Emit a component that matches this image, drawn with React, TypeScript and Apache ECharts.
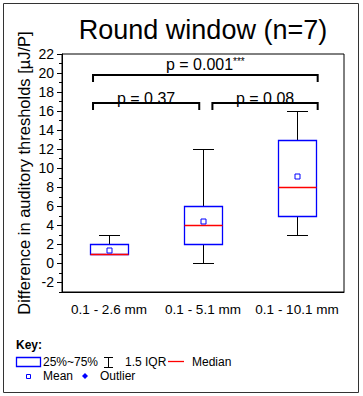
import React, { useEffect, useRef } from "react";
import * as echarts from "echarts";

const categories = ["0.1 - 2.6 mm", "0.1 - 5.1 mm", "0.1 - 10.1 mm"];
const whiskerLow = [1, 0, 3];
const q1 = [1, 2, 5];
const median = [1, 4, 8];
const q3 = [2, 6, 13];
const whiskerHigh = [3, 12, 16];
const mean = [1.43, 4.43, 9.14];

const yMajorTicks = [-2, 0, 2, 4, 6, 8, 10, 12, 14, 16, 18, 20, 22];
const yMinorTicks = [-3, -1, 1, 3, 5, 7, 9, 11, 13, 15, 17, 19, 21];

const bracketLabels = ["p = 0.37", "p = 0.08", "p = 0.001"];
const bracketStars = ["", "", "***"];
const bracketFrom = [-0.17, 1.1, -0.17];
const bracketTo = [0.96, 2.22, 2.22];
const bracketLevel = [16.85, 16.85, 19.8];

const FONT = "'Liberation Sans', Arial, sans-serif";

export default function App() {
  const ref = useRef<HTMLDivElement>(null);
  useEffect(() => {
    if (!ref.current) return;
    const chart = echarts.init(ref.current, null, { renderer: "svg" });
    const boxData = categories.map((_, i) => [
      i,
      whiskerLow[i],
      q1[i],
      median[i],
      q3[i],
      whiskerHigh[i],
      mean[i],
    ]);
    const bracketData = bracketLabels.map((_, i) => [
      0,
      bracketFrom[i],
      bracketTo[i],
      bracketLevel[i],
      i,
    ]);
    const option: any = {
      animation: false,
      backgroundColor: "#fff",
      textStyle: { fontFamily: FONT },
      grid: {
        left: 62,
        top: 54,
        right: 19,
        bottom: 104,
        show: true,
        borderColor: "#000",
        borderWidth: 1,
      },
      xAxis: {
        type: "category",
        data: categories,
        axisLine: { onZero: false, lineStyle: { color: "#000", width: 1 } },
        axisTick: { alignWithLabel: true, length: 5, lineStyle: { color: "#000" } },
        axisLabel: { interval: 0, color: "#000", fontSize: 13.5, margin: 10, fontFamily: FONT },
      },
      yAxis: [
        {
          type: "value",
          min: -3,
          max: 22,
          interval: 1,
          splitLine: { show: false },
          axisLine: { show: true, lineStyle: { color: "#000", width: 1 } },
          axisTick: { show: true, length: 5, customValues: yMajorTicks, lineStyle: { color: "#000" } },
          axisLabel: { color: "#000", fontSize: 14, margin: 8, customValues: yMajorTicks, fontFamily: FONT },
          name: "Difference in auditory thresholds [µJ/P]",
          nameLocation: "middle",
          nameRotate: 90,
          nameGap: 30,
          nameMoveOverlap: false,
          nameTextStyle: { fontSize: 16.5, color: "#000", fontFamily: FONT },
        },
        {
          type: "value",
          position: "left",
          min: -3,
          max: 22,
          interval: 1,
          splitLine: { show: false },
          axisLine: { show: false },
          axisTick: { show: true, length: 3, customValues: yMinorTicks, lineStyle: { color: "#000" } },
          axisLabel: { show: false },
        },
      ],
      series: [
        {
          type: "custom",
          clip: false,
          data: boxData,
          encode: { x: 0, y: [1, 2, 3, 4, 5, 6] },
          renderItem: (params: any, api: any) => {
            const c = api.value(0);
            const x = Math.round(api.coord([c, 0])[0]) + 0.5;
            const band = api.size([1, 0])[0];
            const yy = (v: number) => Math.round(api.coord([c, v])[1]) + 0.5;
            const yLow = yy(api.value(1));
            const yQ1 = yy(api.value(2));
            const yMed = yy(api.value(3));
            const yQ3 = yy(api.value(4));
            const yHigh = yy(api.value(5));
            const yMean = yy(api.value(6));
            const bw = Math.round(band * 0.4);
            const cap = Math.round(band * 0.22);
            const black = { stroke: "#000", lineWidth: 1 };
            const children: any[] = [];
            if (yHigh < yQ3) {
              children.push({ type: "line", shape: { x1: x, y1: yQ3, x2: x, y2: yHigh }, style: black });
              children.push({ type: "line", shape: { x1: x - cap / 2, y1: yHigh, x2: x + cap / 2, y2: yHigh }, style: black });
            }
            if (yLow > yQ1) {
              children.push({ type: "line", shape: { x1: x, y1: yQ1, x2: x, y2: yLow }, style: black });
              children.push({ type: "line", shape: { x1: x - cap / 2, y1: yLow, x2: x + cap / 2, y2: yLow }, style: black });
            }
            children.push({
              type: "rect",
              shape: { x: x - bw / 2, y: yQ3, width: bw, height: yQ1 - yQ3 },
              style: { fill: "#fff", stroke: "#0000ff", lineWidth: 1.3 },
            });
            children.push({
              type: "line",
              shape: { x1: x - bw / 2, y1: yMed, x2: x + bw / 2, y2: yMed },
              style: { stroke: "#ff0000", lineWidth: 1.3 },
            });
            children.push({
              type: "rect",
              shape: { x: x - 2.5, y: yMean - 2.5, width: 5, height: 5 },
              style: { fill: "#fff", stroke: "#0000ff", lineWidth: 1 },
            });
            return { type: "group", children };
          },
        },
        {
          type: "custom",
          clip: false,
          data: bracketData,
          encode: { x: 0, y: 3 },
          renderItem: (params: any, api: any) => {
            const base = api.coord([0, api.value(3)]);
            const band = api.size([1, 0])[0];
            const idx = api.value(4);
            const x1 = base[0] + api.value(1) * band;
            const x2 = base[0] + api.value(2) * band;
            const y = base[1];
            const drop = 7;
            const stars = bracketStars[idx];
            const gap = stars ? 10 : 5;
            return {
              type: "group",
              children: [
                {
                  type: "polyline",
                  shape: { points: [[x1, y + drop], [x1, y], [x2, y], [x2, y + drop]] },
                  style: { stroke: "#000", lineWidth: 2, fill: "none" },
                },
                {
                  type: "text",
                  x: (x1 + x2) / 2,
                  y: y - gap,
                  style: {
                    text: stars ? `{a|${bracketLabels[idx]}}{s|${stars}}` : `{a|${bracketLabels[idx]}}`,
                    align: "center",
                    verticalAlign: "middle",
                    rich: {
                      a: { fontSize: 16, fontFamily: FONT, fill: "#000" },
                      s: { fontSize: 10, fontFamily: FONT, fill: "#000", verticalAlign: "top", padding: [0, 0, 6, 0] },
                    },
                  },
                },
              ],
            };
          },
        },
      ],
      graphic: [
        {
          type: "rect",
          shape: { x: 3.5, y: 3.5, width: 355, height: 389 },
          style: { fill: "none", stroke: "#333", lineWidth: 1 },
          z: 100,
        },
        {
          type: "text",
          x: 203,
          y: 30,
          style: {
            text: "Round window (n=7)",
            fontSize: 27,
            fontFamily: FONT,
            fill: "#000",
            align: "center",
            verticalAlign: "middle",
          },
        },
        {
          type: "text",
          x: 16,
          y: 345,
          style: { text: "Key:", fontSize: 12, fontWeight: "bold", fontFamily: FONT, fill: "#000", verticalAlign: "middle" },
        },
        {
          type: "rect",
          shape: { x: 16.5, y: 357.5, width: 24, height: 9 },
          style: { fill: "#fff", stroke: "#0000ff", lineWidth: 1.3 },
        },
        {
          type: "text",
          x: 43,
          y: 362,
          style: { text: "25%~75%", fontSize: 12, fontFamily: FONT, fill: "#000", verticalAlign: "middle" },
        },
        {
          type: "line",
          shape: { x1: 108.5, y1: 357.5, x2: 108.5, y2: 367.5 },
          style: { stroke: "#000", lineWidth: 1 },
        },
        {
          type: "line",
          shape: { x1: 104, y1: 357.5, x2: 113, y2: 357.5 },
          style: { stroke: "#000", lineWidth: 1 },
        },
        {
          type: "line",
          shape: { x1: 104, y1: 367.5, x2: 113, y2: 367.5 },
          style: { stroke: "#000", lineWidth: 1 },
        },
        {
          type: "text",
          x: 125,
          y: 362,
          style: { text: "1.5 IQR", fontSize: 12, fontFamily: FONT, fill: "#000", verticalAlign: "middle" },
        },
        {
          type: "line",
          shape: { x1: 168, y1: 361.5, x2: 184, y2: 361.5 },
          style: { stroke: "#ff0000", lineWidth: 1.3 },
        },
        {
          type: "text",
          x: 192,
          y: 362,
          style: { text: "Median", fontSize: 12, fontFamily: FONT, fill: "#000", verticalAlign: "middle" },
        },
        {
          type: "rect",
          shape: { x: 26.5, y: 374.5, width: 4, height: 4 },
          style: { fill: "#fff", stroke: "#0000ff", lineWidth: 1 },
        },
        {
          type: "text",
          x: 43,
          y: 376,
          style: { text: "Mean", fontSize: 12, fontFamily: FONT, fill: "#000", verticalAlign: "middle" },
        },
        {
          type: "polygon",
          shape: { points: [[85, 373], [88, 376], [85, 379], [82, 376]] },
          style: { fill: "#0000ff" },
        },
        {
          type: "text",
          x: 100,
          y: 376,
          style: { text: "Outlier", fontSize: 12, fontFamily: FONT, fill: "#000", verticalAlign: "middle" },
        },
      ],
    };
    chart.setOption(option);
    return () => chart.dispose();
  }, []);
  return (
    <div
      ref={ref}
      style={{ position: "fixed", left: 0, top: 0, width: 363, height: 396, background: "#fff" }}
    />
  );
}
